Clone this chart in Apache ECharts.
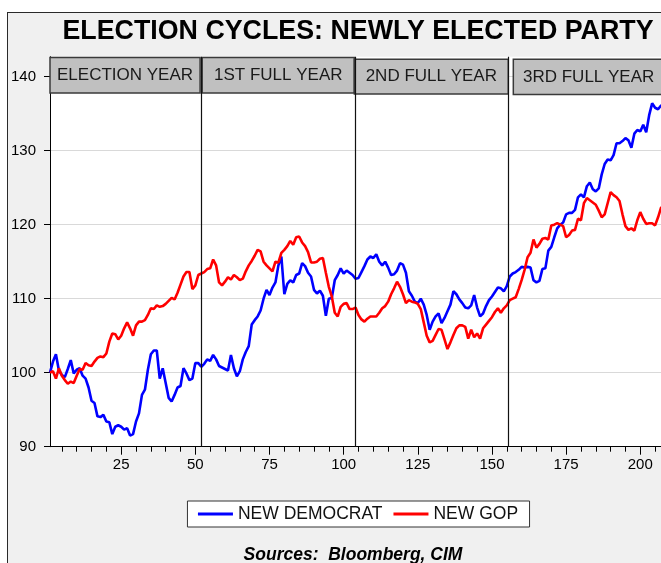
<!DOCTYPE html>
<html>
<head>
<meta charset="utf-8">
<script src="https://cdn.jsdelivr.net/npm/echarts@6/dist/echarts.min.js"></script>
<style>
  html, body { margin: 0; padding: 0; width: 661px; height: 563px; overflow: hidden; background: #fff; }
  #frame { position: absolute; left: 7px; top: 12px; width: 760px; height: 620px; background: #f0f0f0; border: 1.5px solid #2a2a2a; box-sizing: border-box; }
  #chart { position: absolute; left: 0; top: 0; width: 716px; height: 563px; }
</style>
</head>
<body>
<div id="frame"></div>
<div id="chart"></div>
<script>
// Weekly index (start = 100) over a four-year presidential term
const weekCount = 208;
const weeks = Array.from({ length: weekCount }, (_, i) => String(i + 1));

const newDemocrat = [
  100.0,101.5,102.5,100.3,99.7,99.4,100.5,101.7,99.9,100.4,
  100.6,99.6,99.2,98.0,96.2,95.9,94.1,94.0,94.3,93.4,
  93.3,91.7,92.7,92.9,92.7,92.3,92.5,91.5,91.7,93.4,
  94.5,97.0,97.7,100.4,102.5,103.0,103.0,99.2,100.6,98.6,
  96.6,96.1,97.0,98.0,98.2,100.6,99.9,99.0,99.2,101.3,
  101.3,100.8,101.2,101.8,101.6,102.4,101.8,100.9,100.7,100.5,
  100.3,102.4,100.6,99.5,100.2,101.8,102.8,103.6,106.5,107.1,
  107.6,108.4,110.0,111.2,110.5,111.5,112.2,114.5,115.7,110.6,
  112.0,112.5,112.2,113.2,113.4,114.8,114.4,113.5,113.0,111.2,
  110.7,111.1,110.4,107.7,110.0,110.1,112.5,113.2,114.1,113.4,
  113.8,113.5,113.2,112.7,112.8,113.6,114.4,115.3,115.7,115.5,
  116.0,115.0,114.5,115.0,114.2,113.2,113.3,113.8,114.8,114.6,
  113.5,111.0,110.4,109.6,109.4,110.0,109.2,107.8,105.8,106.9,
  107.6,108.0,106.7,107.4,108.3,109.2,111.0,110.6,109.9,109.4,
  108.8,108.7,109.1,110.5,108.8,107.6,108.0,109.0,109.8,110.3,
  110.9,111.5,111.4,111.0,111.7,113.0,113.4,113.6,113.9,114.3,
  114.2,114.3,114.2,112.5,112.2,112.4,114.0,114.1,116.5,117.0,
  118.3,119.5,120.0,120.3,121.4,121.6,121.6,122.0,123.7,124.1,
  123.7,125.2,125.7,124.8,124.5,124.9,126.8,128.2,128.8,128.7,
  129.4,131.0,131.0,131.3,131.7,131.4,130.4,132.3,132.8,132.6,
  133.5,132.5,134.8,136.4,135.8,135.6,136.1,136.3
];

const newGop = [
  100.0,100.2,99.2,100.6,99.6,99.0,98.5,98.8,98.6,99.6,
  100.5,100.4,101.3,101.0,100.9,101.5,102.0,102.2,102.1,102.6,
  104.2,105.3,105.2,104.5,105.0,106.0,106.8,106.0,105.0,106.4,
  106.9,106.9,107.1,107.8,108.7,108.6,109.1,108.9,109.0,109.3,
  109.7,110.1,109.9,110.8,111.9,113.0,113.6,113.6,111.3,111.8,
  113.2,113.4,113.6,114.0,114.1,115.3,114.5,112.2,111.8,112.3,
  112.9,112.6,113.2,112.9,112.5,112.7,113.7,114.5,115.1,115.8,
  116.6,116.4,115.0,114.5,114.1,113.7,115.0,114.9,116.2,116.6,
  117.1,117.8,117.3,118.3,118.4,117.6,117.1,116.3,114.9,114.9,
  115.0,115.4,115.5,113.5,111.6,110.3,108.1,107.6,108.9,109.3,
  109.4,108.6,108.6,108.8,107.8,107.2,106.9,107.3,107.6,107.6,
  107.6,108.1,108.7,109.0,109.6,110.6,111.4,112.3,111.6,110.6,
  109.4,109.8,109.6,109.5,109.3,108.6,106.8,105.0,104.1,104.3,
  105.1,105.9,105.8,104.5,103.2,104.1,105.1,106.0,106.4,106.4,
  106.2,104.6,105.8,104.8,105.3,104.6,106.0,106.5,107.0,107.5,
  108.2,108.7,108.1,108.7,109.1,109.8,110.0,110.2,111.3,112.5,
  113.9,115.6,116.2,118.0,116.9,117.4,118.1,118.2,118.0,119.9,
  120.0,120.2,120.0,119.8,118.3,118.6,119.2,119.3,120.8,120.6,
  122.9,123.6,123.3,123.0,122.7,121.9,121.0,121.4,122.9,124.4,
  124.0,123.7,123.2,121.4,119.8,119.3,119.5,119.2,120.6,121.7,
  120.8,120.1,120.2,120.2,119.9,121.0,122.3,122.6
];

const yTicks = [90, 100, 110, 120, 130, 140];
const xLabelStep = 25;
const xMinorStep = 5;

// Term periods (in weeks) and the header band that labels them
const periodNames = ['ELECTION YEAR', '1ST FULL YEAR', '2ND FULL YEAR', '3RD FULL YEAR'];
const periodStart = [0.35, 52.3, 103.6, 157.2];
const periodEnd = [51.6, 103.6, 155.5, 208.3];
const bandTop = [142.6, 142.6, 142.35, 142.35];
const bandBottom = [137.8, 137.8, 137.65, 137.6];
const yearBreaks = [52, 104, 155.5];

const FONT = '"Liberation Sans", Arial, Helvetica, sans-serif';

const chart = echarts.init(document.getElementById('chart'), null, { renderer: 'canvas' });

const option = {
  animation: false,
  backgroundColor: 'transparent',
  textStyle: { fontFamily: FONT },
  title: {
    text: 'ELECTION CYCLES: NEWLY ELECTED PARTY',
    left: 'center',
    top: 13,
    textStyle: { fontFamily: FONT, fontSize: 26.8, fontWeight: 'bold', color: '#000' }
  },
  grid: {
    left: 50, right: 52, top: 56.7, bottom: 116.3,
    show: true, backgroundColor: '#fff', borderWidth: 0
  },
  legend: {
    data: ['NEW DEMOCRAT', 'NEW GOP'],
    left: 'center',
    top: 501,
    icon: 'rect',
    itemWidth: 35,
    itemHeight: 3,
    itemGap: 11,
    padding: [4, 11.5, 4, 10.5],
    backgroundColor: '#fff',
    borderColor: '#333',
    borderWidth: 1,
    borderRadius: 0,
    textStyle: { fontFamily: FONT, fontSize: 17.5, color: '#111' }
  },
  xAxis: [
    {
      type: 'category', data: weeks, boundaryGap: false, position: 'bottom',
      axisLine: { lineStyle: { color: '#000', width: 1 } },
      axisTick: { interval: (i, v) => Number(v) % xLabelStep === 0, length: 8, lineStyle: { color: '#000' } },
      axisLabel: { interval: (i, v) => Number(v) % xLabelStep === 0, fontFamily: FONT, fontSize: 15, color: '#000', margin: 11 },
      splitLine: { show: false }
    },
    {
      type: 'category', data: weeks, boundaryGap: false, position: 'bottom',
      axisLine: { show: false },
      axisTick: { interval: (i, v) => Number(v) % xMinorStep === 0, length: 5, lineStyle: { color: '#000' } },
      axisLabel: { show: false },
      splitLine: { show: false }
    },
    {
      type: 'value', min: 1, max: weekCount, show: false, position: 'top'
    }
  ],
  yAxis: {
    type: 'value', min: 90, max: 142.7, interval: 10,
    axisLine: { show: true, lineStyle: { color: '#000', width: 1 } },
    axisTick: { show: true, length: 6, lineStyle: { color: '#000' }, customValues: yTicks },
    axisLabel: {
      customValues: yTicks,
      fontFamily: FONT, fontSize: 15, color: '#000', margin: 14,
      formatter: v => (v % 10 === 0 ? String(v) : '')
    },
    splitLine: { show: true, lineStyle: { color: '#d9d9d9', width: 1 } }
  },
  series: [
    {
      name: 'yearBreaks', type: 'line', xAxisIndex: 2, data: [], z: 1, silent: true, clip: false,
      markLine: {
        silent: true, symbol: ['none', 'none'], animation: false,
        label: { show: false },
        lineStyle: { color: '#111', width: 1.2, type: 'solid' },
        data: yearBreaks.map(x => ({ xAxis: x }))
      }
    },
    {
      name: 'NEW DEMOCRAT', type: 'line', data: newDemocrat, xAxisIndex: 0,
      symbol: 'none', z: 3,
      lineStyle: { color: '#0000ff', width: 2.6 }, itemStyle: { color: '#0000ff' }
    },
    {
      name: 'NEW GOP', type: 'line', data: newGop, xAxisIndex: 0,
      symbol: 'none', z: 4,
      lineStyle: { color: '#ff0000', width: 2.6 }, itemStyle: { color: '#ff0000' }
    },
    {
      name: 'periods', type: 'line', xAxisIndex: 2, data: [], z: 10, silent: true, clip: false,
      markArea: {
        silent: true, animation: false,
        itemStyle: { color: '#c0c0c0', borderColor: '#3a3a3a', borderWidth: 1.5 },
        label: { show: true, position: 'inside', fontFamily: FONT, fontSize: 17, color: '#1a1a1a' },
        data: periodNames.map((name, i) => [
          { name: name, xAxis: periodStart[i], yAxis: bandTop[i] },
          { xAxis: periodEnd[i], yAxis: bandBottom[i] }
        ])
      }
    }
  ],
  graphic: [
    {
      type: 'text', x: 353, y: 555, silent: true,
      style: {
        text: 'Sources:  Bloomberg, CIM',
        font: 'italic bold 17.5px ' + FONT,
        fill: '#000', textAlign: 'center', textVerticalAlign: 'middle'
      }
    }
  ]
};

chart.setOption(option);
</script>
</body>
</html>
